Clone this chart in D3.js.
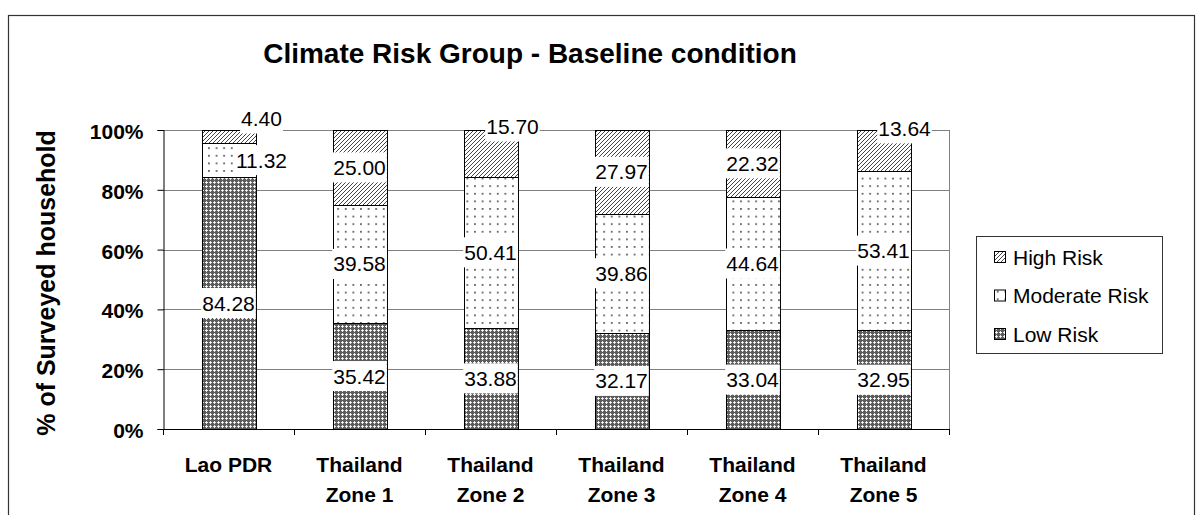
<!DOCTYPE html>
<html>
<head>
<meta charset="utf-8">
<script src="https://cdn.jsdelivr.net/npm/d3@7/dist/d3.min.js"></script>
<style>
  html, body { margin: 0; padding: 0; background: #fff; }
  svg { display: block; font-family: "Liberation Sans", Arial, sans-serif; }
</style>
</head>
<body>
<svg id="chart" width="1203" height="515"></svg>
<script>
// Share of surveyed households by climate risk group (%)
const categories = [["Lao PDR"], ["Thailand", "Zone 1"], ["Thailand", "Zone 2"],
                    ["Thailand", "Zone 3"], ["Thailand", "Zone 4"], ["Thailand", "Zone 5"]];
const seriesNames = ["Low Risk", "Moderate Risk", "High Risk"];
const lowRisk      = [84.28, 35.42, 33.88, 32.17, 33.04, 32.95];
const moderateRisk = [11.32, 39.58, 50.41, 39.86, 44.64, 53.41];
const highRisk     = [4.40, 25.00, 15.70, 27.97, 22.32, 13.64];
const yTicks = [0, 20, 40, 60, 80, 100];
const titleText = "Climate Risk Group - Baseline condition";
const yTitle = "% of Surveyed household";

const svg = d3.select("#chart");
const defs = svg.append("defs");

// --- fill patterns ---
const pHigh = defs.append("pattern").attr("id", "pat-high")
  .attr("patternUnits", "userSpaceOnUse").attr("width", 4).attr("height", 4);
pHigh.append("rect").attr("width", 4).attr("height", 4).attr("fill", "#fff");
pHigh.append("path").attr("d", "M-1,1 L1,-1 M0,4 L4,0 M3,5 L5,3")
  .attr("stroke", "#444").attr("stroke-width", 1);

const pMod = defs.append("pattern").attr("id", "pat-mod")
  .attr("patternUnits", "userSpaceOnUse").attr("width", 7.6).attr("height", 7.6);
pMod.append("rect").attr("width", 7.6).attr("height", 7.6).attr("fill", "#fff");
pMod.append("rect").attr("x", 3).attr("y", 3).attr("width", 1.5).attr("height", 1.5).attr("fill", "#222");

const pLow = defs.append("pattern").attr("id", "pat-low")
  .attr("patternUnits", "userSpaceOnUse").attr("width", 4).attr("height", 4);
pLow.append("rect").attr("width", 4).attr("height", 4).attr("fill", "#5c5c5c");
pLow.append("rect").attr("x", 1).attr("y", 2).attr("width", 3).attr("height", 1).attr("fill", "#e6e6e6");
pLow.append("rect").attr("x", 2).attr("y", 1).attr("width", 1).attr("height", 3).attr("fill", "#e6e6e6");
pLow.append("rect").attr("x", 2).attr("y", 2).attr("width", 1).attr("height", 1).attr("fill", "#fff");

const fills = { "Low Risk": "url(#pat-low)", "Moderate Risk": "url(#pat-mod)", "High Risk": "url(#pat-high)" };

// --- outer frame ---
svg.append("rect").attr("x", 8.5).attr("y", 15.5).attr("width", 1186).attr("height", 520)
  .attr("fill", "none").attr("stroke", "#333").attr("stroke-width", 1.2);

// --- scales ---
const plot = { left: 163, right: 949, top: 130, bottom: 429 };
const keys = categories.map(c => c.join(" "));
const x = d3.scaleBand().domain(keys).range([plot.left, plot.right])
  .paddingInner(0.588).paddingOuter(0.294);
const y = d3.scaleLinear().domain([0, 100]).range([plot.bottom, plot.top]);

// --- title ---
svg.append("text").attr("x", 530).attr("y", 63).attr("text-anchor", "middle")
  .attr("font-size", 28).attr("font-weight", "bold").text(titleText);

// --- gridlines & plot border ---
const g = svg.append("g");
g.selectAll("line.grid").data(yTicks.filter(d => d > 0)).join("line")
  .attr("x1", plot.left).attr("x2", plot.right)
  .attr("y1", d => Math.round(y(d)) + 0.5).attr("y2", d => Math.round(y(d)) + 0.5)
  .attr("stroke", "#808080").attr("stroke-width", 1);
g.append("line").attr("x1", plot.right + 0.5).attr("x2", plot.right + 0.5)
  .attr("y1", plot.top).attr("y2", plot.bottom).attr("stroke", "#808080");

// --- stacked bars ---
const rows = keys.map((k, i) => ({ key: k, "Low Risk": lowRisk[i], "Moderate Risk": moderateRisk[i], "High Risk": highRisk[i] }));
const stacked = d3.stack().keys(seriesNames)(rows);

const layers = svg.append("g").selectAll("g").data(stacked).join("g")
  .attr("fill", d => fills[d.key]);
layers.selectAll("rect").data(d => d.map(s => ({ s, series: d.key }))).join("rect")
  .attr("x", d => Math.round(x(d.s.data.key)) + 0.5)
  .attr("width", x.bandwidth())
  .attr("y", d => Math.round(y(d.s[1])) + 0.5)
  .attr("height", d => Math.round(y(d.s[0])) - Math.round(y(d.s[1])))
  .attr("stroke", "#000").attr("stroke-width", 1);

// --- axes ---
const yAxis = svg.append("g").attr("transform", `translate(${plot.left + 0.5},0)`)
  .call(d3.axisLeft(y).tickValues(yTicks).tickFormat(d => d + "%").tickSize(6).tickPadding(14));
yAxis.select(".domain").attr("stroke", "#000");
yAxis.selectAll(".tick line").attr("stroke", "#000");
yAxis.selectAll(".tick text").attr("font-family", "Liberation Sans, Arial, sans-serif")
  .attr("font-size", 21).attr("font-weight", "bold").attr("fill", "#000").attr("dy", "0.4em");

svg.append("line").attr("x1", plot.left).attr("x2", plot.right + 1)
  .attr("y1", plot.bottom + 0.5).attr("y2", plot.bottom + 0.5).attr("stroke", "#000");
const bounds = keys.map(k => x(k) - x.step() * x.paddingOuter()).concat([plot.right]);
svg.append("g").selectAll("line").data(bounds).join("line")
  .attr("x1", d => Math.round(d) + 0.5).attr("x2", d => Math.round(d) + 0.5)
  .attr("y1", plot.bottom).attr("y2", plot.bottom + 6).attr("stroke", "#000");

// category labels (one or two lines)
const cat = svg.append("g").selectAll("text").data(categories).join("text")
  .attr("text-anchor", "middle").attr("font-size", 21).attr("font-weight", "bold")
  .attr("transform", (d, i) => `translate(${x(keys[i]) + x.bandwidth() / 2},0)`);
cat.selectAll("tspan").data(d => d).join("tspan")
  .attr("x", 0).attr("y", (d, i) => 472 + i * 30).text(d => d);

// y-axis title
svg.append("text").attr("transform", "translate(55,283) rotate(-90)")
  .attr("text-anchor", "middle").attr("font-size", 25).attr("font-weight", "bold")
  .text(yTitle);

// --- value labels with white boxes ---
// small segments get their label moved aside so it stays readable
const labelNudge = {
  "Lao PDR|High Risk": [33, -18],
  "Lao PDR|Moderate Risk": [33, 0],
  "Thailand Zone 2|High Risk": [22, -27],
  "Thailand Zone 5|High Risk": [21, -22]
};
const labels = [];
stacked.forEach(layer => layer.forEach(s => {
  const nudge = labelNudge[s.data.key + "|" + layer.key] || [0, 0];
  labels.push({
    text: (s[1] - s[0]).toFixed(2),
    cx: x(s.data.key) + x.bandwidth() / 2 + nudge[0],
    cy: y((s[0] + s[1]) / 2) + nudge[1]
  });
}));
const lg = svg.append("g").selectAll("g").data(labels).join("g")
  .attr("transform", d => `translate(${d.cx},${d.cy})`);
lg.append("text").attr("text-anchor", "middle").attr("dy", "0.36em")
  .attr("font-size", 21).attr("fill", "#000").text(d => d.text);
lg.each(function () {
  const t = d3.select(this).select("text");
  const w = t.node().getComputedTextLength();
  d3.select(this).insert("rect", "text")
    .attr("x", -w / 2 - 1).attr("y", -15).attr("width", w + 2).attr("height", 30)
    .attr("fill", "#fff");
});

// --- legend ---
const legend = svg.append("g");
legend.append("rect").attr("x", 976.5).attr("y", 236.5).attr("width", 186).attr("height", 117)
  .attr("fill", "#fff").attr("stroke", "#333");
const legendOrder = ["High Risk", "Moderate Risk", "Low Risk"];
const li = legend.selectAll("g.item").data(legendOrder).join("g")
  .attr("transform", (d, i) => `translate(994,${257 + i * 38.5})`);
li.append("rect").attr("x", 0.5).attr("y", -5.5).attr("width", 11).attr("height", 11)
  .attr("fill", d => fills[d]).attr("stroke", "#000");
li.append("text").attr("x", 19).attr("dy", "0.36em").attr("font-size", 21).text(d => d);
</script>
</body>
</html>
